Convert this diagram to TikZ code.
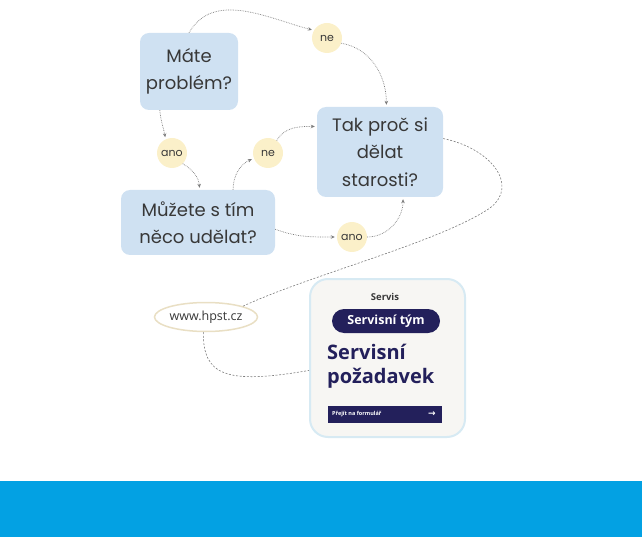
\documentclass[tikz,border=0pt]{standalone}
\usepackage{fontspec}
\setmainfont{Poppins}
\newfontfamily\cardfont{Open Sans}
\newfontfamily\symfont{DejaVu Sans}
\usetikzlibrary{arrows.meta,shapes.geometric,positioning}

\definecolor{qblue}{HTML}{CFE1F2}
\definecolor{qyellow}{HTML}{FBF0C9}
\definecolor{ink}{HTML}{383838}
\definecolor{navy}{HTML}{23205B}
\definecolor{cardgray}{HTML}{F7F6F3}
\definecolor{cardedge}{HTML}{D7EAF3}
\definecolor{linkgray}{HTML}{7C7C7C}
\definecolor{ovaledge}{HTML}{E9DFC4}
\definecolor{band}{HTML}{03A1E3}

\tikzset{
	question/.style={fill=qblue, rounded corners=9pt, align=center, text=ink,
		font=\fontsize{18}{27.5}\selectfont, inner sep=0pt},
	answer/.style={circle, fill=qyellow, minimum size=30pt, inner sep=0pt, text=ink,
		font=\fontsize{11}{11}\selectfont},
	flow/.style={densely dotted, linkgray, line width=0.7pt, shorten >=2pt,
		-{Stealth[length=4pt,width=3.5pt]}},
	trail/.style={dash pattern=on 2pt off 1.6pt, linkgray, line width=0.6pt},
}

\begin{document}
\begin{tikzpicture}[x=1pt,y=1pt]
	\useasboundingbox (0,0) rectangle (642,-537);

	% questions
	\node[question, minimum width=98pt, minimum height=77pt] (mate) at (189,-71.5) {Máte\\problém?};
	\node[question, minimum width=126pt, minimum height=90pt] (tak) at (380,-152) {Tak proč si\\dělat\\starosti?};
	\node[question, minimum width=154pt, minimum height=65pt] (muz) at (198,-222.5) {Můžete s tím\\něco udělat?};

	% answers
	\node[answer] (ne1) at (327,-38) {ne};
	\node[answer] (ano1) at (172,-153) {ano};
	\node[answer] (ne2) at (268,-153) {ne};
	\node[answer] (ano2) at (352,-237) {ano};

	% flow
	\draw[flow] (mate.north) to[out=60,in=165] (ne1.150);
	\draw[flow] (ne1.-20) to[out=-10,in=90] (tak.82);
	\draw[flow] (mate.233) to[out=-85,in=100] (ano1.115);
	\draw[flow] (ano1.-45) to[out=-30,in=95] (muz.87);
	\draw[flow] (muz.43) to[out=90,in=205] (ne2.200);
	\draw[flow] (ne2.55) to[out=60,in=180] (tak.158);
	\draw[flow] (muz.-5) to[out=-20,in=180] (ano2.west);
	\draw[flow] (ano2.east) to[out=0,in=-90] (tak.-63);

	% web link
	\node[ellipse, draw=ovaledge, line width=1.5pt, fill=white, minimum width=102pt,
		minimum height=29pt, inner sep=0pt, text=ink, font=\cardfont\fontsize{12.5}{12.5}\selectfont]
		(www) at (206,-317) {www.hpst.cz};

	% service card
	\node[draw=cardedge, line width=2pt, fill=cardgray, rounded corners=18pt,
		minimum width=155pt, minimum height=158pt] (card) at (387.5,-358) {};
	\node[font=\cardfont\bfseries\fontsize{9.5}{9.5}\selectfont, text=ink] (cardtitle) at (385,-297) {Servis};
	\node[fill=navy, rounded corners=12pt, minimum width=108pt, minimum height=24pt, inner sep=0pt,
		text=white, font=\cardfont\bfseries\fontsize{12.5}{12.5}\selectfont] (pill) at (386,-321) {Servisní tým};
	\node[anchor=west, align=left, inner sep=0pt, text=navy,
		font=\cardfont\bfseries\fontsize{20}{24}\selectfont] (request) at (327,-366) {Servisní\\požadavek};
	\node[fill=navy, minimum width=114pt, minimum height=17pt, inner sep=0pt] (bar) at (385,-414.5) {};
	\node[anchor=west, text=white, inner sep=0pt, font=\cardfont\bfseries\fontsize{5.5}{5.5}\selectfont]
		(formtext) at (332,-414.5) {Přejít na formulář};
	\node[text=white, inner sep=0pt, font=\symfont\bfseries\fontsize{9}{9}\selectfont] (formarrow) at (432,-414) {→};

	% dashed trails
	\draw[trail] (tak.12) .. controls (490,-148) and (520,-185) .. (490,-208)
		.. controls (440,-242) and (310,-275) .. (www.north east);
	\draw[trail] (www.-100) .. controls (203,-375) and (225,-385) .. (card.189);

	% bottom band
	\fill[band] (0,-481) rectangle (642,-537);
\end{tikzpicture}
\end{document}
